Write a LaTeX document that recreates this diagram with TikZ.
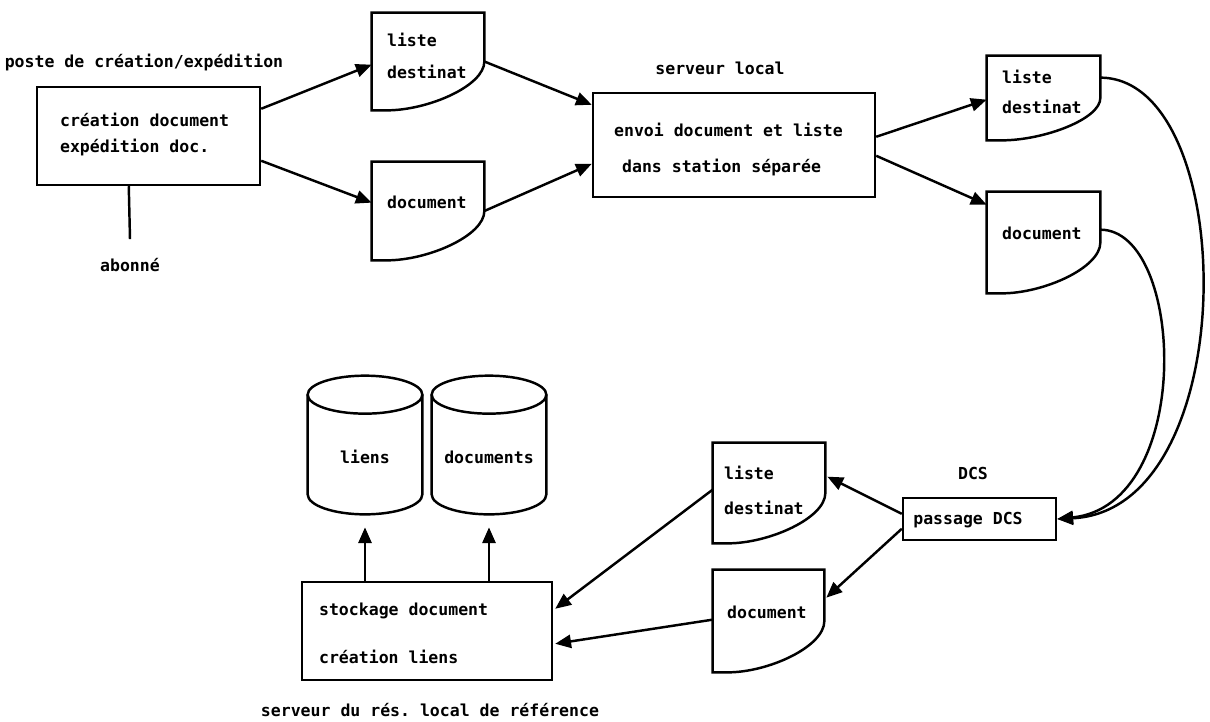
\documentclass[tikz,border=0pt]{standalone}
\usepackage{fontspec}
\setmonofont{DejaVu Sans Mono}
\usetikzlibrary{arrows.meta,calc,fit}
\newcommand\docshape[1]{\draw[ln] (#1.north west) -- (#1.north east) -- (#1.east)
  .. controls ($(#1.east)!0.5!(#1.south east)$) and (#1.south) .. ($(#1.south west)+(15,0)$)
  -- (#1.south west) -- cycle;}
\newcommand\cylshape[1]{%
  \coordinate (#1-a) at ($(#1.north west)+(0,19)$);
  \coordinate (#1-b) at ($(#1.north east)+(0,19)$);
  \coordinate (#1-c) at ($(#1.south west)+(0,-20)$);
  \coordinate (#1-d) at ($(#1.south east)+(0,-20)$);
  \draw[ln] (#1-a) .. controls ($(#1-a)+(0,-10.5)$) and ($(#1.north)+(-31.5,0)$) .. (#1.north)
    .. controls ($(#1.north)+(31.5,0)$) and ($(#1-b)+(0,-10.5)$) .. (#1-b)
    .. controls ($(#1-b)+(0,10.5)$) and ($(#1.north)+(31.5,38)$) .. ($(#1.north)+(0,38)$)
    .. controls ($(#1.north)+(-31.5,38)$) and ($(#1-a)+(0,10.5)$) .. (#1-a) -- cycle;
  \draw[ln] (#1-a) -- (#1-c) .. controls ($(#1-c)+(0,11)$) and ($(#1.south)+(-31.5,0)$) .. (#1.south)
    .. controls ($(#1.south)+(31.5,0)$) and ($(#1-d)+(0,11)$) .. (#1-d) -- (#1-b);}
\begin{document}
\begin{tikzpicture}[x=0.02cm,y=-0.02cm,
  ln/.style={line width=1.4pt},
  arr/.style={ln,-{Triangle[length=9pt,width=7.5pt]}},
  txt/.style={font=\ttfamily\bfseries\fontsize{9.4}{11}\selectfont, inner sep=1pt},
  frame/.style={draw,line width=1.4pt,inner sep=0pt},
  area/.style={inner sep=0pt}]
\useasboundingbox (0,0) rectangle (1210,721);

% poste de creation
\node[frame, fit={(37,87) (260,185)}] (b1) {};
\node[txt] (lbpost) at (144,62) {poste de création/expédition};
\node[txt, anchor=west] (b1a) at (58,120) {création document};
\node[txt, anchor=west] (b1b) at (58,147) {expédition doc.};
\node[txt] (ab) at (130,265) {abonné};
\draw[ln] ($(b1.south west)+(93,0)$) -- ($(ab.north)+(0,-17)$);

% first documents
\node[area, fit={(372,13) (484,110)}] (l1) {}; \docshape{l1}
\node[txt, anchor=west] (l1a) at (385,40) {liste};
\node[txt, anchor=west] (l1b) at (385,72) {destinat};
\node[area, fit={(372,162) (484,260)}] (d1) {}; \docshape{d1}
\node[txt, anchor=west] (d1a) at (385,202) {document};
\draw[arr] ($(b1.north east)+(0,23)$) -- ($(l1.north west)+(0,52)$);
\draw[arr] ($(b1.north east)+(0,75)$) -- ($(d1.north west)+(0,41)$);

% serveur local
\node[frame, fit={(593,93) (875,197)}] (srv) {};
\node[txt] (srvlab) at (720,68) {serveur local};
\node[txt, anchor=west] (srva) at (612,130) {envoi document et liste};
\node[txt, anchor=west] (srvb) at (620,167) {dans station séparée};
\draw[arr] (l1.east) -- ($(srv.north west)+(0,13)$);
\draw[arr] (d1.east) -- ($(srv.north west)+(0,72)$);

% second documents
\node[area, fit={(987,56) (1100,140)}] (l2) {}; \docshape{l2}
\node[txt, anchor=west] (l2a) at (1000,77) {liste};
\node[txt, anchor=west] (l2b) at (1000,107) {destinat};
\node[area, fit={(987,192) (1100,293)}] (d2) {}; \docshape{d2}
\node[txt, anchor=west] (d2a) at (1000,233) {document};
\draw[arr] ($(srv.north east)+(0,45)$) -- ($(l2.north west)+(0,44)$);
\draw[arr] ($(srv.north east)+(0,64)$) -- ($(d2.north west)+(0,13)$);

% DCS
\node[frame, fit={(903,498) (1056,540)}] (dcs) {};
\node[txt] (dcslab) at (973,473) {DCS};
\node[txt] (dcst) at (968,520) {passage DCS};
\draw[arr] ($(l2.north east)+(0,22)$) .. controls (1240,78) and (1245,510) .. (dcs.east);
\draw[arr] ($(d2.north east)+(0,38)$) .. controls (1185,230) and (1195,505) .. (dcs.east);

% third documents
\node[area, fit={(713,443) (825,543)}] (l3) {}; \docshape{l3}
\node[txt, anchor=west] (l3a) at (722,473) {liste};
\node[txt, anchor=west] (l3b) at (722,508) {destinat};
\node[area, fit={(713,570) (824,672)}] (d3) {}; \docshape{d3}
\node[txt, anchor=west] (d3a) at (725,612) {document};
\draw[arr] ($(dcs.north west)+(0,17)$) -- ($(l3.north east)+(2,34)$);
\draw[arr] ($(dcs.north west)+(0,32)$) -- ($(d3.north east)+(2,28)$);

% stockage
\node[frame, fit={(302,582) (552,680)}] (st) {};
\node[txt, anchor=west] (sta) at (317,611) {stockage document};
\node[txt, anchor=west] (stb) at (317,657) {création liens};
\node[txt] (stlab) at (430,710) {serveur du rés. local de référence};
\draw[arr] ($(l3.north west)+(0,47)$) -- ($(st.north east)+(2,28)$);
\draw[arr] ($(d3.north west)+(0,50)$) -- ($(st.north east)+(2,63)$);

% cylinders
\node[area, fit={(308,376) (422,514)}] (c1) {}; \cylshape{c1}
\node[area, fit={(432,376) (546,514)}] (c2) {}; \cylshape{c2}
\node[txt] (c1t) at (365,457) {liens};
\node[txt] (c2t) at (489,457) {documents};
\draw[arr] (c1.south |- st.north) -- ($(c1.south)+(0,13)$);
\draw[arr] (c2.south |- st.north) -- ($(c2.south)+(0,13)$);
\end{tikzpicture}
\end{document}
